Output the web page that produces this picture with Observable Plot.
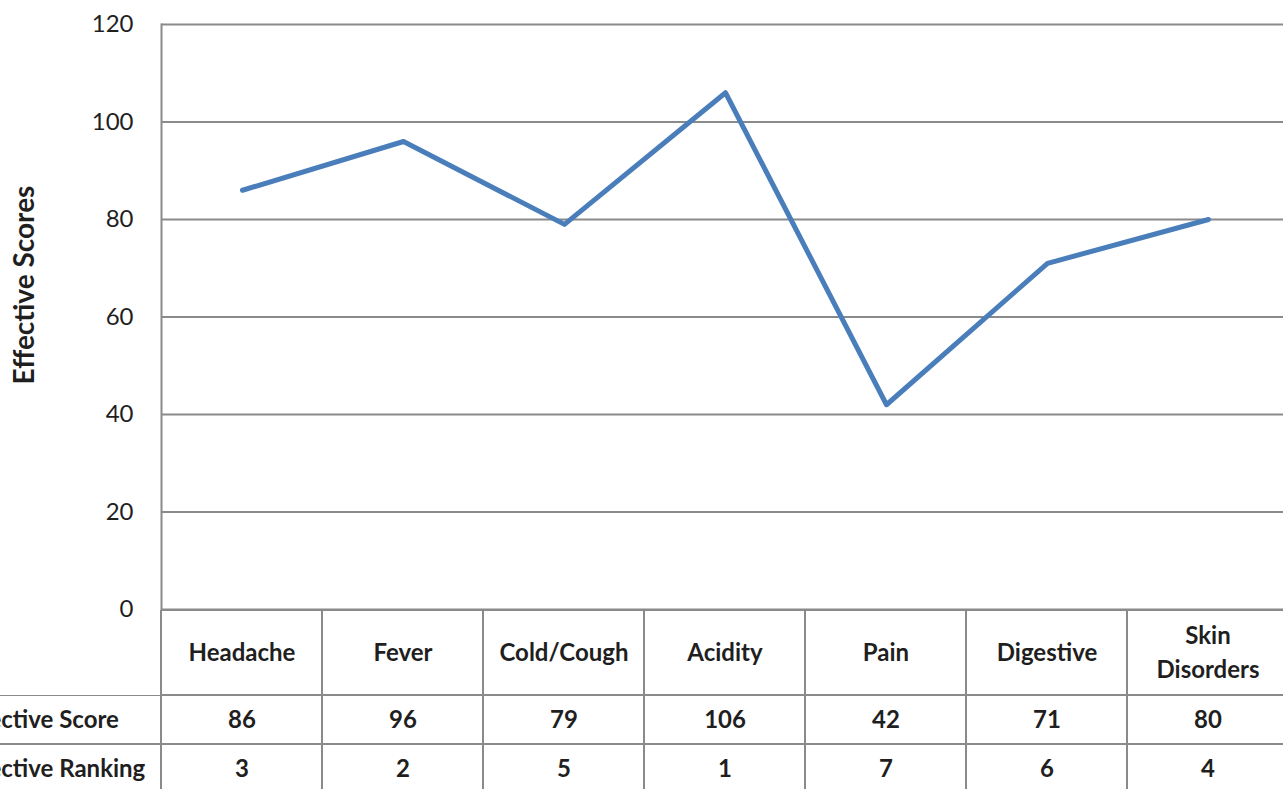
<!DOCTYPE html>
<html><head><meta charset="utf-8">
<script src="https://cdn.jsdelivr.net/npm/d3@7"></script>
<script src="https://cdn.jsdelivr.net/npm/@observablehq/plot@0.6"></script>
<style>
html,body{margin:0;padding:0;background:#fff;overflow:hidden;width:1283px;height:789px;}
#chart svg{display:block;max-width:none;}
</style></head><body><div id="chart"></div>
<script>
const categories = ["Headache","Fever","Cold/Cough","Acidity","Pain","Digestive","Skin\nDisorders"];
const scores = [86,96,79,106,42,71,80];
const rankings = [3,2,5,1,7,6,4];
const yTicks = [0,20,40,60,80,100,120];
const yLabel = "Effective Scores";
const rowLabels = ["Effective Score","Effective Ranking"];

const W = 1288, ML = 161;
const font = "Lato, 'Open Sans', sans-serif";
const grid = "#8a8a8a";
const ink = "#1f1f1f";
const lineColor = "#4A7EBB";
const FS = 24;
const data = categories.map((c,i)=>({cat:c, score:scores[i], rank:rankings[i]}));
const tableData = categories.flatMap((c,i)=>[
  {cat:c, row:rowLabels[0], v:scores[i]},
  {cat:c, row:rowLabels[1], v:rankings[i]}
]);
const LABEL = " ";

const main = Plot.plot({
  width: W, height: 610, marginLeft: ML, marginRight: 0, marginTop: 24, marginBottom: 1,
  style: {fontFamily: font, fontSize: FS + "px", color: ink, background: "white", maxWidth: "none", overflow: "visible"},
  x: {type:"point", domain: categories, padding: 0.5, axis: null},
  y: {domain:[0,120], axis: null},
  marks: [
    Plot.ruleY(yTicks, {stroke: grid, strokeWidth: 2}),
    Plot.frame({anchor:"left", stroke: grid, strokeWidth: 2}),
    Plot.axisY(yTicks, {tickSize: 0, tickPadding: 28, fontSize: FS, fill: ink, label: null}),
    Plot.text([yLabel], {text: d=>d, frameAnchor:"left", textAnchor:"middle", rotate:-90, dx:-136, dy:-32, fontWeight:"bold", fontSize:28, fill: ink}),
    Plot.line(data, {x:"cat", y:"score", stroke: lineColor, strokeWidth: 5, strokeLinejoin:"round"})
  ]
});

const tableStyle = {fontFamily: font, fontSize: FS + "px", color: ink, background: "none", maxWidth: "none", position: "relative"};

const header = Plot.plot({
  width: W, height: 85, marginLeft: ML, marginRight: 0, marginTop: 0, marginBottom: 0,
  style: tableStyle,
  x: {type:"band", domain: categories, padding: 0, axis: null},
  marks: [
    Plot.cell(categories, {x: d=>d, fill:"none", stroke: grid, strokeWidth: 2, inset: 0}),
    Plot.text(categories, {x: d=>d, text: d=>d, lineAnchor:"middle", lineHeight: 1.42, dy: -3, fontWeight:"bold", fontSize: FS, fill: ink})
  ]
});

const values = Plot.plot({
  width: W, height: 98, marginLeft: 0, marginRight: 0, marginTop: 0, marginBottom: 0,
  style: tableStyle,
  x: {type:"band", domain: [LABEL, ...categories], padding: 0, axis: null},
  y: {type:"band", domain: rowLabels, padding: 0, axis: null},
  marks: [
    Plot.cell(tableData, {x:"cat", y:"row", fill:"none", stroke: grid, strokeWidth: 2, inset: 0}),
    Plot.cell(rowLabels, {x: ()=>LABEL, y: d=>d, fill:"none", stroke: grid, strokeWidth: 2, inset: 0, insetLeft: -4}),
    Plot.text(tableData, {x:"cat", y:"row", text:"v", fontWeight:"bold", fontSize: FS, fill: ink}),
    Plot.text(rowLabels, {x: ()=>LABEL, y: d=>d, text: d=>d, textAnchor:"start", dx: -122, fontWeight:"bold", fontSize: FS, fill: ink})
  ]
});

const el = document.getElementById("chart");
el.append(main, header, values);
</script></body></html>
